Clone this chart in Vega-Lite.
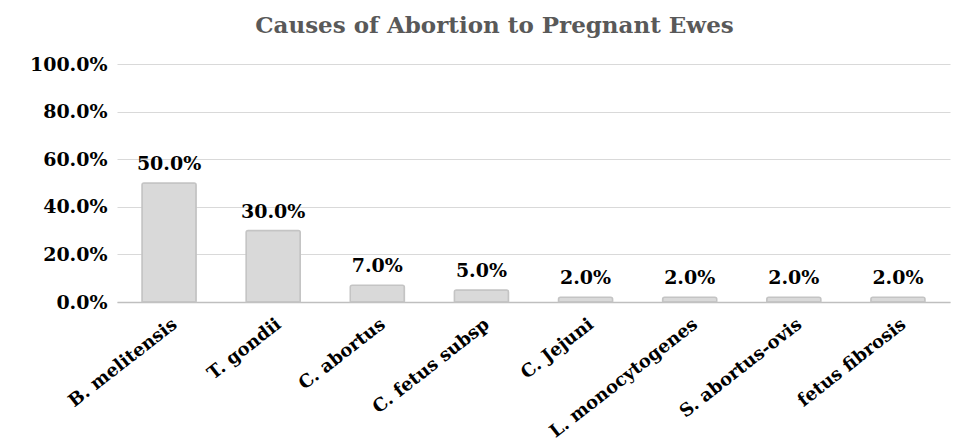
{
  "$schema": "https://vega.github.io/schema/vega-lite/v6.json",
  "description": "Causes of abortion to pregnant ewes",
  "autosize": {"type": "none"},
  "width": 833,
  "height": 238,
  "padding": {"left": 117, "top": 64, "right": 8, "bottom": 142},
  "background": "white",
  "view": {"stroke": null},
  "title": {
    "text": "Causes of Abortion to Pregnant Ewes",
    "font": "DejaVu Serif",
    "fontSize": 23,
    "fontWeight": "bold",
    "color": "#595959",
    "anchor": "middle",
    "dx": -39,
    "offset": 17
  },
  "data": {
    "values": [
      {"cause": "B. melitensis", "pct": 0.50},
      {"cause": "T. gondii", "pct": 0.30},
      {"cause": "C. abortus", "pct": 0.07},
      {"cause": "C. fetus subsp", "pct": 0.05},
      {"cause": "C. Jejuni", "pct": 0.02},
      {"cause": "L. monocytogenes", "pct": 0.02},
      {"cause": "S. abortus-ovis", "pct": 0.02},
      {"cause": "fetus fibrosis", "pct": 0.02}
    ]
  },
  "encoding": {
    "x": {
      "field": "cause",
      "type": "nominal",
      "sort": null,
      "scale": {"paddingInner": 0.48, "paddingOuter": 0.24},
      "axis": {
        "title": null,
        "labelAngle": -38,
        "labelAlign": "right",
        "labelBaseline": "middle",
        "labelFont": "DejaVu Serif",
        "labelFontWeight": "bold",
        "labelFontSize": 18,
        "labelColor": "#000000",
        "labelLimit": 400,
        "labelPadding": 20,
        "labelOffset": 6,
        "ticks": false,
        "domainColor": "#bfbfbf",
        "domainWidth": 1.5,
        "grid": false
      }
    },
    "y": {
      "field": "pct",
      "type": "quantitative",
      "scale": {"domain": [0, 1]},
      "axis": {
        "title": null,
        "values": [0, 0.2, 0.4, 0.6, 0.8, 1],
        "format": ".1%",
        "labelFont": "DejaVu Serif",
        "labelFontWeight": "bold",
        "labelFontSize": 19,
        "labelColor": "#000000",
        "labelPadding": 10,
        "ticks": false,
        "domain": false,
        "gridColor": "#d9d9d9",
        "gridWidth": 1
      }
    }
  },
  "layer": [
    {
      "mark": {
        "type": "bar",
        "color": "#d9d9d9",
        "stroke": "#c4c4c4",
        "strokeWidth": 1.5,
        "cornerRadiusTopLeft": 2,
        "cornerRadiusTopRight": 2
      }
    },
    {
      "mark": {
        "type": "text",
        "dy": -19,
        "font": "DejaVu Serif",
        "fontWeight": "bold",
        "fontSize": 19,
        "color": "#000000"
      },
      "encoding": {
        "text": {"field": "pct", "type": "quantitative", "format": ".1%"}
      }
    }
  ]
}
